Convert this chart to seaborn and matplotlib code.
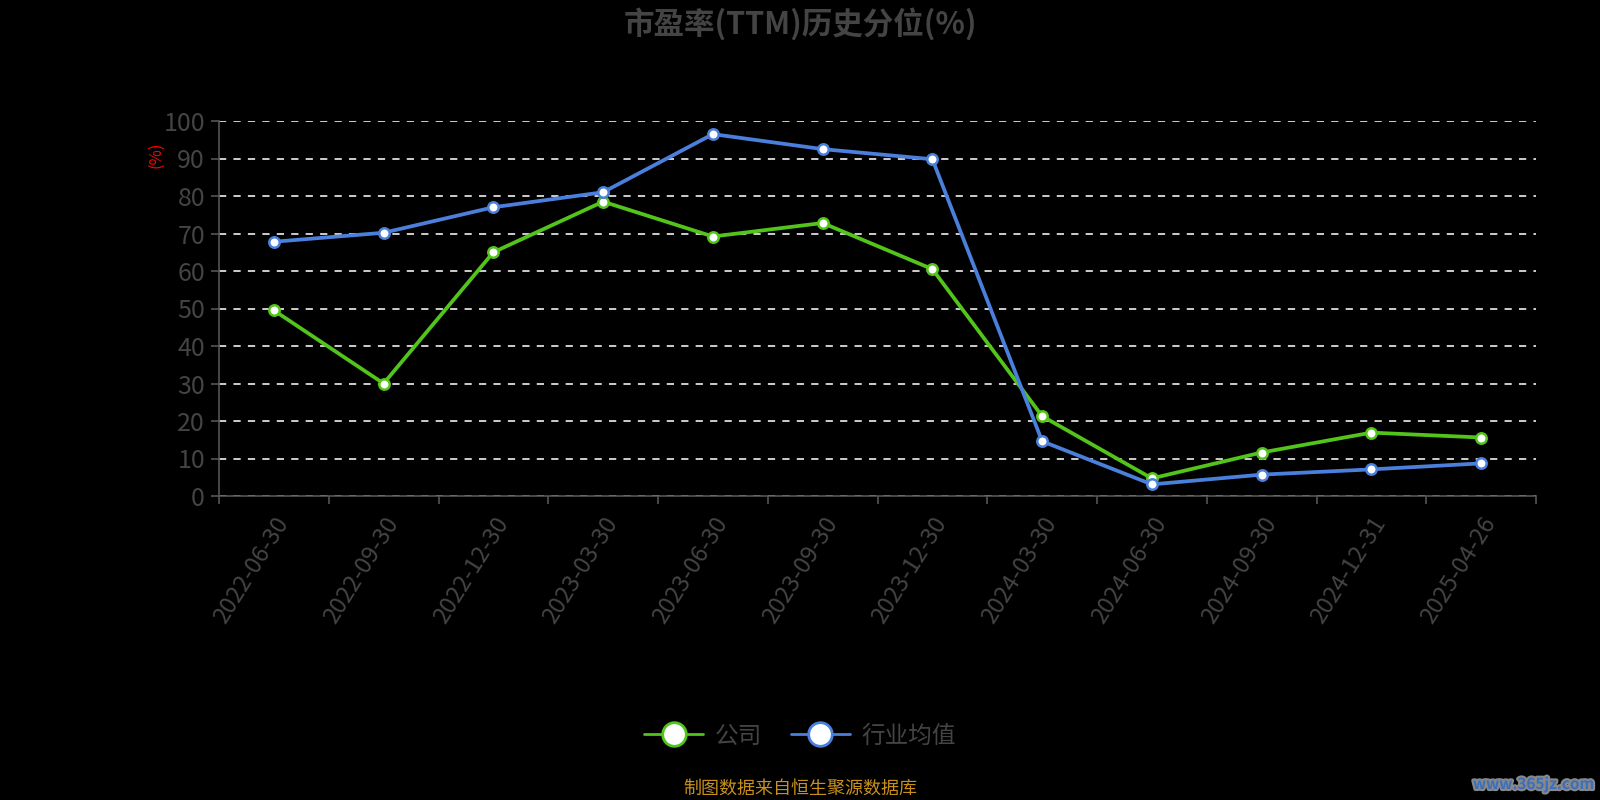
import matplotlib
matplotlib.use("Agg")
import matplotlib.pyplot as plt
import matplotlib.transforms as mtransforms
import numpy as np
import pandas as pd
import seaborn as sns
from matplotlib.lines import Line2D
import matplotlib.patheffects as pe

dates = ['2022-06-30', '2022-09-30', '2022-12-30', '2023-03-30', '2023-06-30', '2023-09-30',
         '2023-12-30', '2024-03-30', '2024-06-30', '2024-09-30', '2024-12-31', '2025-04-26']
company = [49.5, 30.0, 65.0, 78.5, 69.2, 72.8, 60.5, 21.3, 4.7, 11.6, 16.9, 15.6]
industry = [67.8, 70.2, 77.0, 81.0, 96.5, 92.5, 89.8, 14.6, 3.1, 5.7, 7.1, 8.7]
series_names = ['公司', '行业均值']
colors = {'公司': '#52c41a', '行业均值': '#4a80dc'}

sns.set_theme(style='dark')
plt.rcParams['font.family'] = ['Noto Sans CJK SC', 'DejaVu Sans']
plt.rcParams['axes.unicode_minus'] = False

df = pd.DataFrame({
    'pos': list(range(len(dates))) * 2,
    'value': company + industry,
    'series': [series_names[0]] * len(dates) + [series_names[1]] * len(dates),
})

fig = plt.figure(figsize=(16, 8), dpi=100, facecolor='black')
ax = fig.add_axes([219 / 1600, 1 - 496 / 800, (1536 - 219) / 1600, (496 - 121) / 800])
ax.set_facecolor('black')

sns.lineplot(data=df, x='pos', y='value', hue='series', palette=colors, ax=ax,
             linewidth=2.7, marker='o', markersize=7.5, markerfacecolor='white',
             markeredgewidth=1.8, legend=False, zorder=3)
# marker edges in series color
for line, name in zip(ax.get_lines(), series_names):
    line.set_markeredgecolor(colors[name])

ax.set_xlim(-0.5, len(dates) - 0.5)
ax.set_ylim(0, 100)
ax.set_yticks(np.arange(0, 101, 10))
ax.yaxis.grid(True, color='#dddddd', linestyle=(0, (4, 4)), linewidth=1.3)
ax.xaxis.grid(False)
ax.set_axisbelow(True)

ax.set_xticks(range(len(dates)))
ax.set_xticklabels(dates, rotation=58, ha='right', rotation_mode='anchor',
                   fontsize=17, color='#444444')
shift = mtransforms.ScaledTranslation(-10 / 100, 0, fig.dpi_scale_trans)
for lab in ax.get_xticklabels():
    lab.set_transform(lab.get_transform() + shift)
ax.set_xticks(np.arange(-0.5, len(dates), 1), minor=True)
ax.tick_params(axis='x', which='major', length=0, pad=12)
ax.tick_params(axis='x', which='minor', length=6, color='#555555', width=1.2, bottom=True)
ax.tick_params(axis='y', length=6, color='#555555', width=1.2, left=True,
               labelsize=18, labelcolor='#444444', pad=4)

for s in ['top', 'right']:
    ax.spines[s].set_visible(False)
for s in ['left', 'bottom']:
    ax.spines[s].set_color('#555555')
    ax.spines[s].set_linewidth(1.2)

ax.set_xlabel('')
ax.set_ylabel('')
fig.text(156 / 1600, 1 - 155 / 800, '(%)', color='red', rotation=90, fontsize=12,
         ha='center', va='center')

fig.text(0.5, 1 - 24 / 800, '市盈率(TTM)历史分位(%)', color='#444444', fontsize=22,
         fontweight='bold', ha='center', va='center')

handles = [Line2D([0], [0], color=colors[n], linewidth=2, marker='o', markersize=17,
                  markerfacecolor='white', markeredgecolor=colors[n], markeredgewidth=2)
           for n in series_names]
leg = fig.legend(handles, series_names, loc='center', bbox_to_anchor=(0.5, 1 - 736 / 800),
                 ncol=2, frameon=False, fontsize=17, handlelength=2.5, columnspacing=1.2,
                 handletextpad=0.5)
for t in leg.get_texts():
    t.set_color('#444444')

fig.text(0.5, 1 - 789 / 800, '制图数据来自恒生聚源数据库', color='#c8901a', fontsize=13,
         ha='center', va='center')
fig.text(1594 / 1600, 1 - 784 / 800, 'www.365jz.com', color='#3a6fc0', fontsize=11,
         fontweight='bold', ha='right', va='center',
         path_effects=[pe.withStroke(linewidth=3, foreground='#888888')])

fig.savefig('out.png', dpi=100, facecolor='black')
